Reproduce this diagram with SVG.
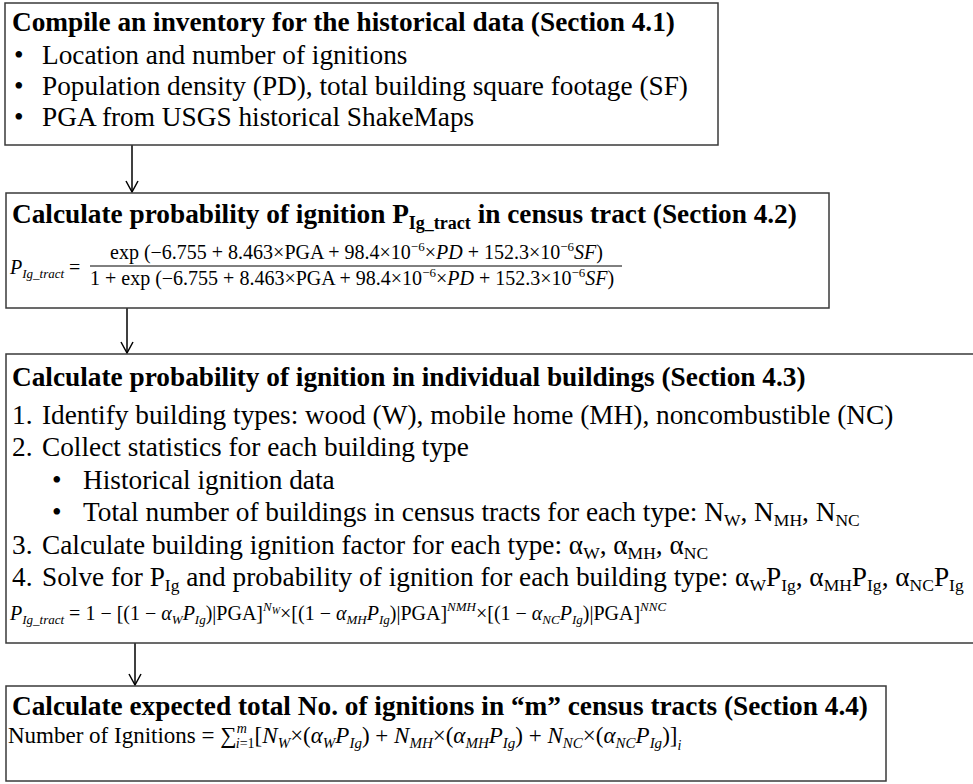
<svg xmlns="http://www.w3.org/2000/svg" width="973" height="784" viewBox="0 0 973 784">
<defs>
<style>
.box{fill:#fff;stroke:#3a3a3a;stroke-width:1.5}
text{font-family:"Liberation Serif","Times New Roman",serif;fill:#000}
.t{font-size:27.3px;font-weight:bold}
.b{font-size:27.3px}
.m{font-size:20px}
.conn{stroke:#000;stroke-width:1.5;fill:none}
</style>
<marker id="ah" markerWidth="14" markerHeight="14" refX="12" refY="7" orient="auto" markerUnits="userSpaceOnUse" viewBox="0 0 14 14">
<polyline points="1,1 12,7 1,13" fill="none" stroke="#000" stroke-width="1.5"/>
</marker>
</defs>
<rect width="973" height="784" fill="#fff"/>
<g id="connectors">
<line class="conn" x1="132" y1="145" x2="132" y2="192" marker-end="url(#ah)"/>
<line class="conn" x1="127" y1="308" x2="127" y2="353" marker-end="url(#ah)"/>
<line class="conn" x1="135" y1="643" x2="135" y2="685" marker-end="url(#ah)"/>
</g>
<g id="node1">
<rect class="box" x="5" y="3" width="713" height="142"/>
<text class="t" x="12" y="31">Compile an inventory for the historical data (Section 4.1)</text>
<text class="b" x="14" y="64">•</text>
<text class="b" x="42" y="64">Location and number of ignitions</text>
<text class="b" x="14" y="95">•</text>
<text class="b" x="42" y="95">Population density (PD), total building square footage (SF)</text>
<text class="b" x="14" y="126">•</text>
<text class="b" x="42" y="126">PGA from USGS historical ShakeMaps</text>
</g>
<g id="node2">
<rect class="box" x="6" y="193" width="823" height="115"/>
<text class="t" x="12" y="223">Calculate probability of ignition P<tspan font-size="18" dy="6">Ig_tract</tspan><tspan dy="-6"> in census tract (Section 4.2)</tspan></text>
<text class="m" x="10" y="274"><tspan font-style="italic">P</tspan><tspan font-style="italic" font-size="13" dy="4">Ig_tract</tspan><tspan dy="-4"> =</tspan></text>
<text class="m" x="110" y="259">exp (−6.755 + 8.463×PGA + 98.4×10<tspan font-size="13" dy="-8">−6</tspan><tspan dy="8">×</tspan><tspan font-style="italic">PD</tspan> + 152.3×10<tspan font-size="13" dy="-8">−6</tspan><tspan font-style="italic" dy="8">SF</tspan>)</text>
<line x1="90" y1="266" x2="622" y2="266" stroke="#000" stroke-width="1"/>
<text class="m" x="90" y="285">1 + exp (−6.755 + 8.463×PGA + 98.4×10<tspan font-size="13" dy="-8">−6</tspan><tspan dy="8">×</tspan><tspan font-style="italic">PD</tspan> + 152.3×10<tspan font-size="13" dy="-8">−6</tspan><tspan font-style="italic" dy="8">SF</tspan>)</text>
</g>
<g id="node3">
<rect class="box" x="6" y="354" width="980" height="289"/>
<text class="t" x="12" y="386">Calculate probability of ignition in individual buildings (Section 4.3)</text>
<text class="b" x="12" y="424">1.</text>
<text class="b" x="42" y="424">Identify building types: wood (W), mobile home (MH), noncombustible (NC)</text>
<text class="b" x="12" y="456">2.</text>
<text class="b" x="42" y="456">Collect statistics for each building type</text>
<text class="b" x="52" y="489">•</text>
<text class="b" x="83" y="489">Historical ignition data</text>
<text class="b" x="52" y="521">•</text>
<text class="b" x="83" y="521">Total number of buildings in census tracts for each type: N<tspan font-size="17.5" dy="5">W</tspan><tspan dy="-5">, N</tspan><tspan font-size="17.5" dy="5">MH</tspan><tspan dy="-5">, N</tspan><tspan font-size="17.5" dy="5">NC</tspan></text>
<text class="b" x="12" y="554">3.</text>
<text class="b" x="42" y="554">Calculate building ignition factor for each type: α<tspan font-size="17.5" dy="5">W</tspan><tspan dy="-5">, α</tspan><tspan font-size="17.5" dy="5">MH</tspan><tspan dy="-5">, α</tspan><tspan font-size="17.5" dy="5">NC</tspan></text>
<text class="b" x="12" y="586">4.</text>
<text class="b" x="42" y="586">Solve for P<tspan font-size="17.5" dy="5">Ig</tspan><tspan dy="-5"> and probability of ignition for each building type: α</tspan><tspan font-size="17.5" dy="5">W</tspan><tspan dy="-5">P</tspan><tspan font-size="17.5" dy="5">Ig</tspan><tspan dy="-5">, α</tspan><tspan font-size="17.5" dy="5">MH</tspan><tspan dy="-5">P</tspan><tspan font-size="17.5" dy="5">Ig</tspan><tspan dy="-5">, α</tspan><tspan font-size="17.5" dy="5">NC</tspan><tspan dy="-5">P</tspan><tspan font-size="17.5" dy="5">Ig</tspan></text>
<text class="m" x="10" y="620"><tspan font-style="italic">P</tspan><tspan font-style="italic" font-size="13" dy="4">Ig_tract</tspan><tspan dy="-4"> = 1 − [(1 − </tspan><tspan font-style="italic">α</tspan><tspan font-style="italic" font-size="13" dy="4">W</tspan><tspan font-style="italic" dy="-4">P</tspan><tspan font-style="italic" font-size="13" dy="4">Ig</tspan><tspan dy="-4">)|PGA]</tspan><tspan font-style="italic" font-size="13" dy="-9">N</tspan><tspan font-style="italic" font-size="10" dy="3">W</tspan><tspan dy="6">×[(1 − </tspan><tspan font-style="italic">α</tspan><tspan font-style="italic" font-size="13" dy="4">MH</tspan><tspan font-style="italic" dy="-4">P</tspan><tspan font-style="italic" font-size="13" dy="4">Ig</tspan><tspan dy="-4">)|PGA]</tspan><tspan font-style="italic" font-size="13" dy="-9">NMH</tspan><tspan dy="9">×[(1 − </tspan><tspan font-style="italic">α</tspan><tspan font-style="italic" font-size="13" dy="4">NC</tspan><tspan font-style="italic" dy="-4">P</tspan><tspan font-style="italic" font-size="13" dy="4">Ig</tspan><tspan dy="-4">)|PGA]</tspan><tspan font-style="italic" font-size="13" dy="-9">NNC</tspan></text>
</g>
<g id="node4">
<rect class="box" x="6" y="686" width="880" height="95"/>
<text class="t" x="12" y="715">Calculate expected total No. of ignitions in “m” census tracts (Section 4.4)</text>
<text x="8" y="743" font-size="23">Number of Ignitions = ∑<tspan font-style="italic" font-size="14" dy="-10">m</tspan><tspan font-style="italic" font-size="14" dx="-11" dy="15">i</tspan><tspan font-size="14">=1</tspan><tspan dy="-5">[</tspan><tspan font-style="italic">N</tspan><tspan font-style="italic" font-size="15" dy="5">W</tspan><tspan dy="-5">×(</tspan><tspan font-style="italic">α</tspan><tspan font-style="italic" font-size="15" dy="5">W</tspan><tspan font-style="italic" dy="-5">P</tspan><tspan font-style="italic" font-size="15" dy="5">Ig</tspan><tspan dy="-5">) + </tspan><tspan font-style="italic">N</tspan><tspan font-style="italic" font-size="15" dy="5">MH</tspan><tspan dy="-5">×(</tspan><tspan font-style="italic">α</tspan><tspan font-style="italic" font-size="15" dy="5">MH</tspan><tspan font-style="italic" dy="-5">P</tspan><tspan font-style="italic" font-size="15" dy="5">Ig</tspan><tspan dy="-5">) + </tspan><tspan font-style="italic">N</tspan><tspan font-style="italic" font-size="15" dy="5">NC</tspan><tspan dy="-5">×(</tspan><tspan font-style="italic">α</tspan><tspan font-style="italic" font-size="15" dy="5">NC</tspan><tspan font-style="italic" dy="-5">P</tspan><tspan font-style="italic" font-size="15" dy="5">Ig</tspan><tspan dy="-5">)]</tspan><tspan font-style="italic" font-size="14" dy="7">i</tspan></text>
</g>
</svg>
